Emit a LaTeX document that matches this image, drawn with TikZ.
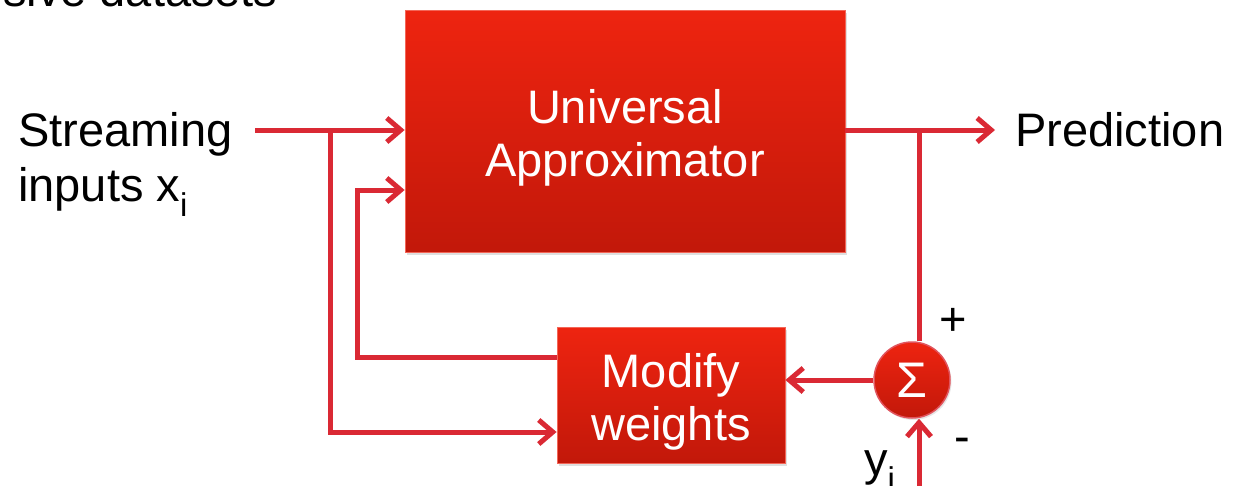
\documentclass[tikz,border=0pt]{standalone}
\usepackage{fontspec}
\setmainfont{Liberation Sans}
\usetikzlibrary{arrows.meta,shadows,calc}
\definecolor{wire}{RGB}{218,41,52}
\definecolor{boxtop}{RGB}{238,36,16}
\definecolor{boxbot}{RGB}{194,24,10}
\newcommand{\firstline}{\rule{0pt}{48pt}}
\begin{document}
\begin{tikzpicture}[x=1pt,y=-1pt,
  every node/.style={font=\fontsize{47}{53}\selectfont, inner sep=0pt},
  redbox/.style={rectangle, top color=boxtop, bottom color=boxbot,
    draw=boxtop!70!white, line width=0.8pt, text=white, align=center,
    drop shadow={opacity=0.25, shadow xshift=2pt, shadow yshift=-3pt}},
  sumnode/.style={circle, top color=boxtop, bottom color=boxbot,
    draw=wire!80!white, line width=1.5pt, text=white, minimum size=76pt,
    drop shadow={opacity=0.2, shadow xshift=1.5pt, shadow yshift=-2pt}},
  wireline/.style={draw=wire, line width=5pt},
  conn/.style={wireline, -{Straight Barb[length=14pt,width=24pt,line width=5pt]}},
  label/.style={anchor=base west, text=black}]
\useasboundingbox (0,0) rectangle (1245,485);

% heading cut off by the frame
\begin{scope}
\clip (0,0) rectangle (1245,485);
\node[label] (head) at (3,6) {sive datasets};
\end{scope}

% blocks
\node[redbox, minimum width=440pt, minimum height=242pt] (ua) at (625,131) {\firstline Universal\\Approximator};
\node[redbox, minimum width=228pt, minimum height=136pt] (mw) at (671,395) {\firstline Modify\\weights};
\node[sumnode, font=\fontsize{50}{50}\selectfont] (sig) at (912,380) {\raisebox{-3pt}{Σ}};

% labels
\node[label] (stream) at (18,146) {Streaming};
\node[label] (inputs) at (18,201) {inputs x\textsubscript{i}};
\node[label] (pred) at (1015,146) {Prediction};
\node[label] (yi) at (864,475) {y\textsubscript{i}};
\node[text=black] (plus) at (953,322) {+};
\node[text=black] (minus) at (962,445) {-};

% wiring points
\coordinate (in0) at (255,130);
\coordinate (j1) at (330,130);
\coordinate (out) at (995,130);
\coordinate (j2) at (919,130);
\coordinate (ybot) at (919,490);

% input path and its branch to the weight update
\draw[conn] (in0) -- (in0 -| ua.west);
\draw[conn] (j1) |- ($(mw.west)+(0,37)$);
% feedback of updated weights
\draw[conn] ($(mw.west)+(0,-38)$) -- ++(-199,0) |- ($(ua.west)+(0,59)$);
% output
\draw[conn] (ua.east |- j2) -- (out);
\draw[wireline] (j2) -- (j2 |- sig.north);
% error to weight update
\draw[conn] (sig.west) -- (sig.west -| mw.east);
% target value
\draw[conn] (ybot) -- (ybot |- sig.south);
\end{tikzpicture}
\end{document}
